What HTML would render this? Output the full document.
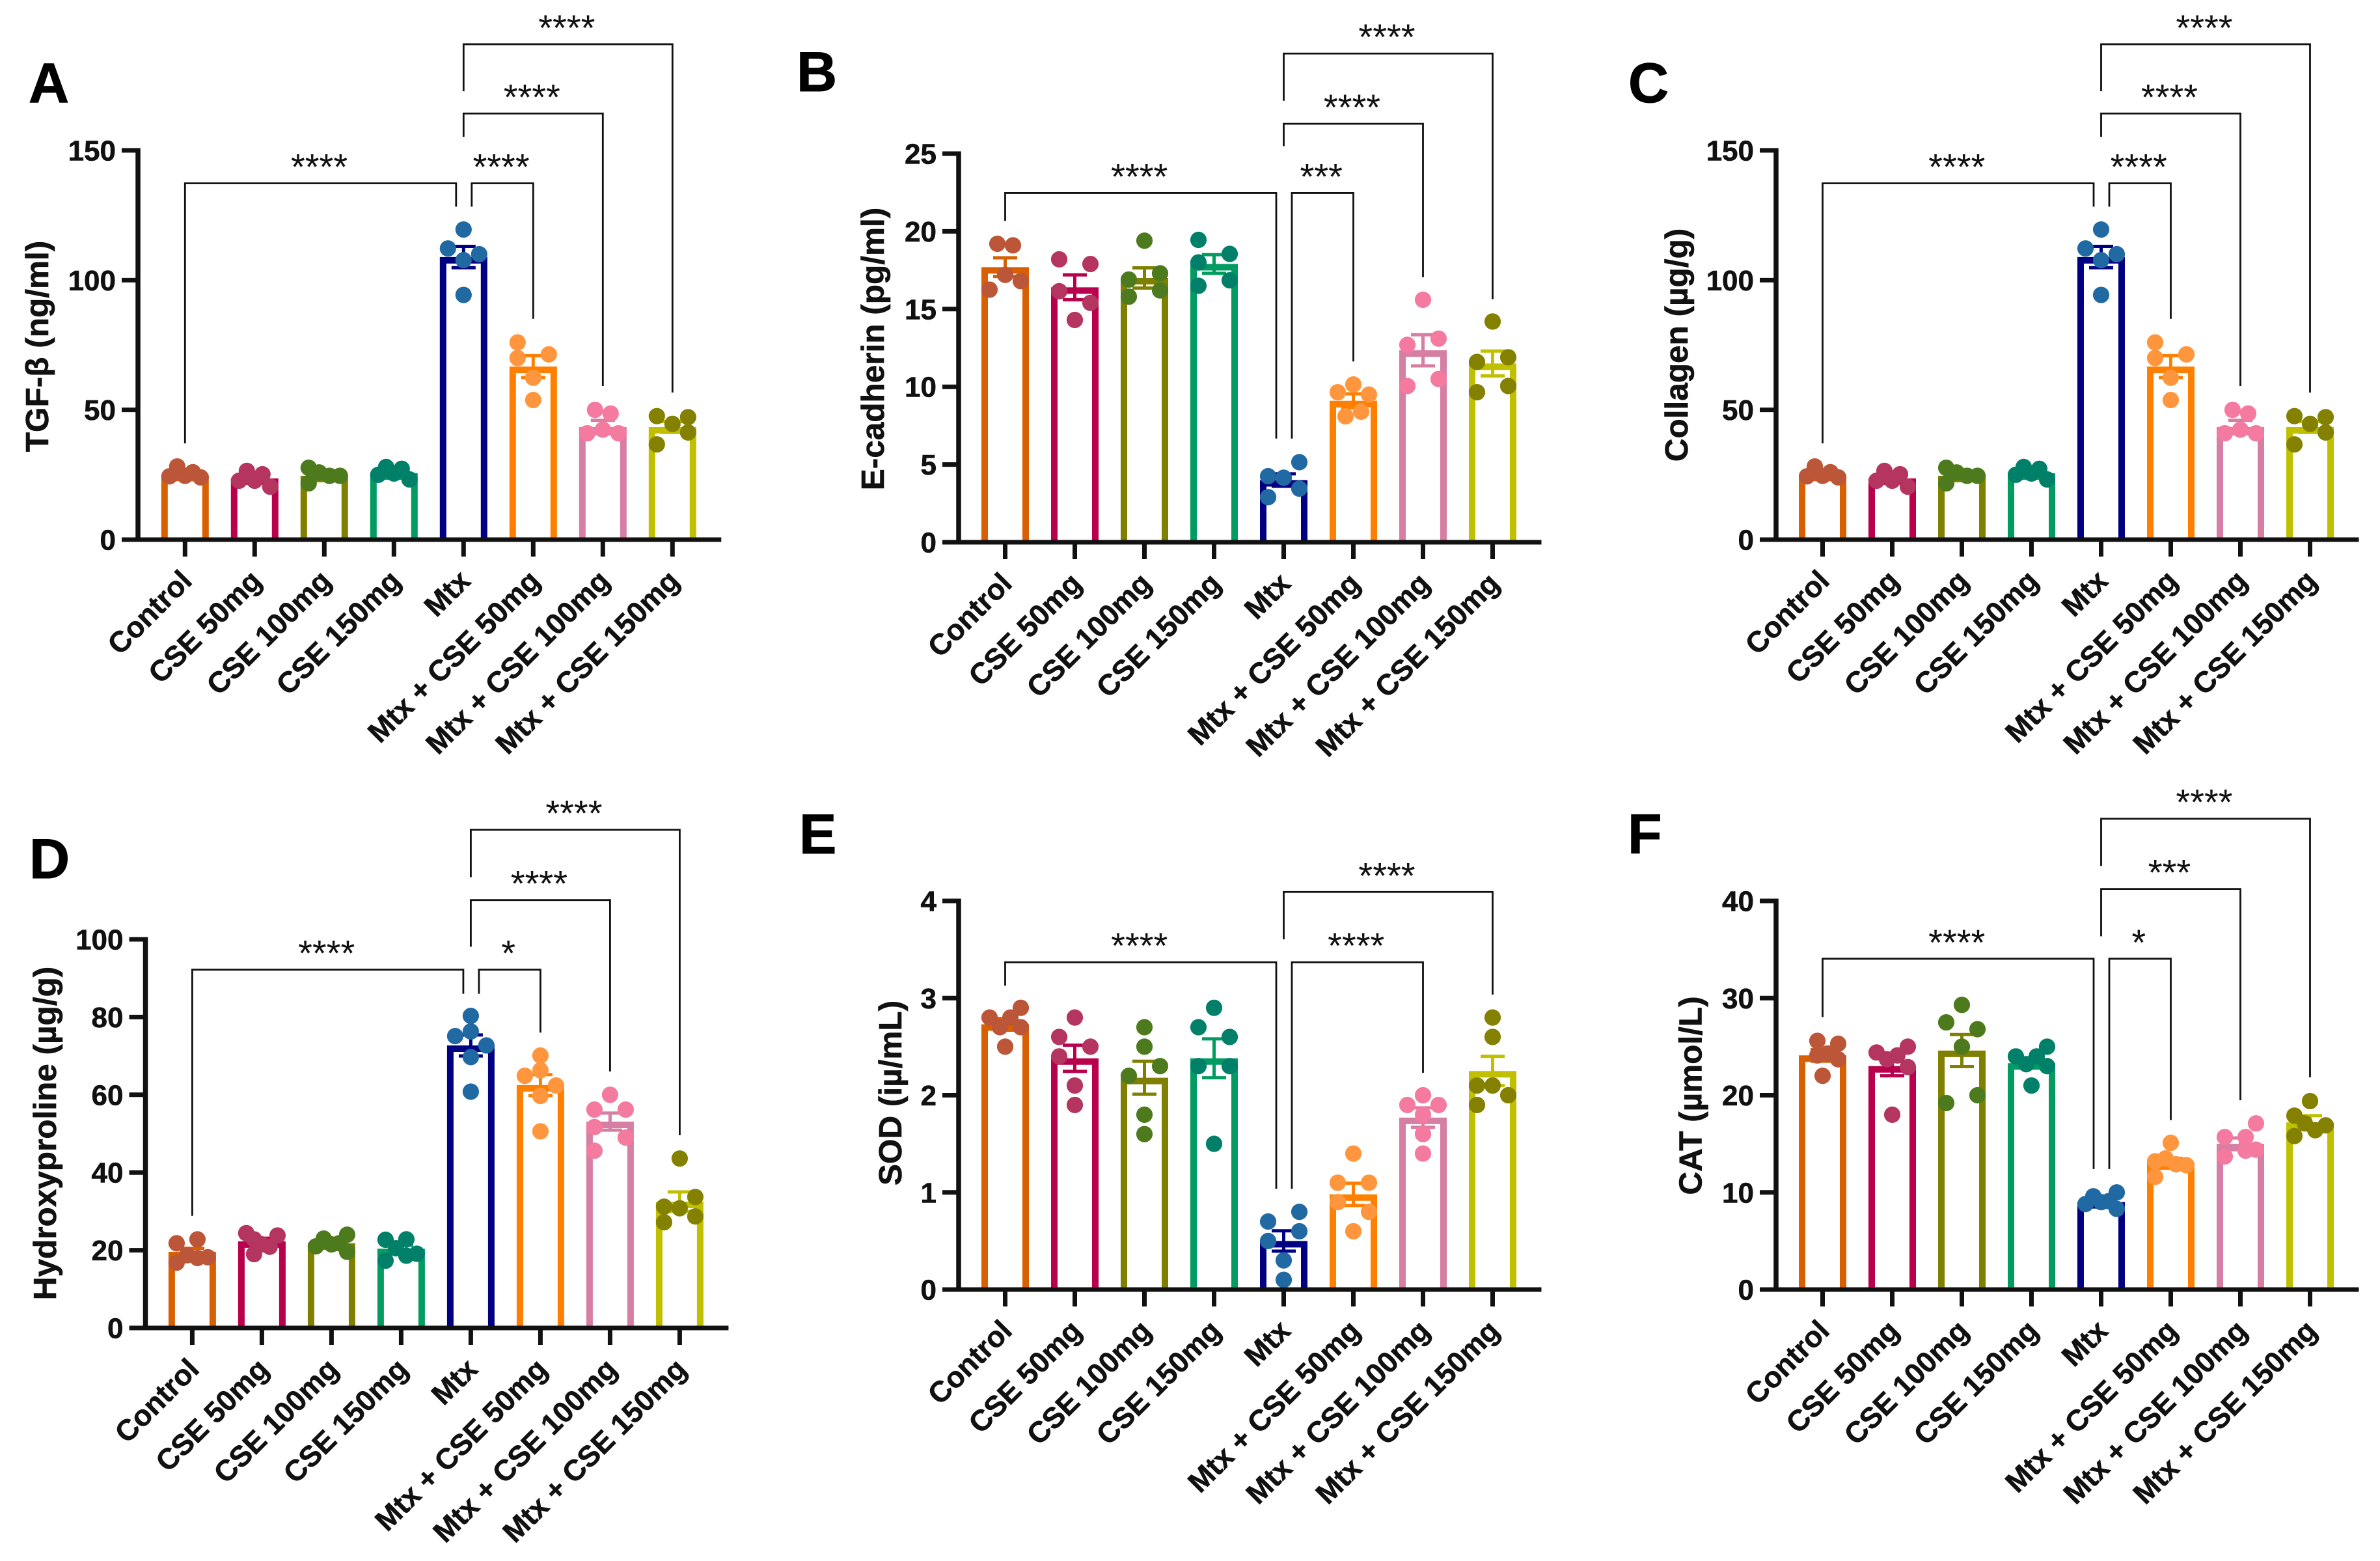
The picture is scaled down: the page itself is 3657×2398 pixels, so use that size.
<!DOCTYPE html>
<html lang="en">
<head>
<meta charset="utf-8">
<title>Six-panel bar charts of fibrosis and oxidative stress markers</title>
<style>
html,body{margin:0;padding:0;background:#fff;}
#figure{display:block;width:3657px;height:2398px;background:#fff;font-family:"Liberation Sans",Arial,sans-serif;}
</style>
</head>
<body>
<svg id="figure" xmlns="http://www.w3.org/2000/svg" width="3657" height="2398" viewBox="0 0 3657 2398"></svg>
<script>
const groupLabels = ["Control","CSE 50mg","CSE 100mg","CSE 150mg","Mtx","Mtx + CSE 50mg","Mtx + CSE 100mg","Mtx + CSE 150mg"];

const barColors = ["#D96002","#B8004D","#808000","#029C62","#000080","#FF8000","#D67EA3","#C0C000"];
const dotColors = ["#BC5638","#B53561","#4E7A1E","#008068","#2169A3","#FF963D","#F47A9F","#848000"];

/* Panel A: TGF-beta */
const ticksA = [0,50,100,150];
const meansA = [25,23.6,24.6,25.6,108.9,66.7,43.4,43.4];
const semsA = [0.8,1,1.1,0.9,4.1,4.2,2.6,2.1];
const dotsA = [
  [[24.4,28.2,24.6,26,24]],
  [[22.7,26.5,22.7,25.2,20.4]],
  [[27.7,25.9,24.6,24.6],[21.7,null]],
  [[25,28,25.5,27.3,23.2]],
  [[119.5],[112.2,107.7,110],[94.3]],
  [[76,null],[70,62.4,71.4],[53.8]],
  [[null,50,null,48.6,null],[41,42.4,41]],
  [[47.6,44.6,47.2],[36.7,null,41.3]]
];
const bracketsA = [
  {from:0,to:4,level:137.3,fromEnd:37.1,toEnd:128.3,stars:"****"},
  {from:4,to:5,level:137.3,fromEnd:128.3,toEnd:85.1,stars:"****"},
  {from:4,to:6,level:164.2,fromEnd:155.2,toEnd:59.2,stars:"****"},
  {from:4,to:7,level:190.9,fromEnd:172.8,toEnd:56.7,stars:"****"}
];

/* Panel B: E-cadherin */
const ticksB = [0,5,10,15,20,25];
const meansB = [17.7,16.4,17,17.9,4,9.1,12.35,11.5];
const semsB = [0.6,0.8,0.65,0.6,0.4,0.45,1,0.8];
const dotsB = [
  [[null,19.2,null,19.1,null],[16.25,17.2,16.8]],
  [[18.2,17.9],[16.15,15.4],[14.3]],
  [[19.4],[16.9,17.3],[15.8,16.2]],
  [[19.45,null],[18,18.55],[16.5,16.85]],
  [[null,null,5.15],[4.25,4.15,null],[2.9,3.45]],
  [[10.15],[9.65,9.5],[null,8.1,null,8.4,null]],
  [[15.6],[12.7,13.1],[10.05,10.5]],
  [[14.2],[11.6,11.9],[9.65,10.05]]
];
const bracketsB = [
  {from:0,to:4,level:22.47,fromEnd:20.67,toEnd:6.67,stars:"****"},
  {from:4,to:5,level:22.47,fromEnd:6.67,toEnd:11.63,stars:"***"},
  {from:4,to:6,level:26.92,fromEnd:25.48,toEnd:17.05,stars:"****"},
  {from:4,to:7,level:31.44,fromEnd:28.4,toEnd:15.64,stars:"****"}
];

/* Panel C: Collagen */
const ticksC = [0,50,100,150];
const meansC = [25,23.6,24.6,25.6,108.9,66.7,43.4,43.4];
const semsC = [0.8,1,1.1,0.9,4.1,4.2,2.6,2.1];
const dotsC = [
  [[24.4,28.2,24.6,26,24]],
  [[22.7,26.5,22.7,25.2,20.4]],
  [[27.7,25.9,24.6,24.6],[21.7,null]],
  [[25,28,25.5,27.3,23.2]],
  [[119.5],[112.2,107.7,110],[94.3]],
  [[76,null],[70,62.4,71.4],[53.8]],
  [[null,50,null,48.6,null],[41,42.4,41]],
  [[47.6,44.6,47.2],[36.7,null,41.3]]
];
const bracketsC = [
  {from:0,to:4,level:137.3,fromEnd:37.1,toEnd:128.3,stars:"****"},
  {from:4,to:5,level:137.3,fromEnd:128.3,toEnd:85.1,stars:"****"},
  {from:4,to:6,level:164.2,fromEnd:155.2,toEnd:59.2,stars:"****"},
  {from:4,to:7,level:190.9,fromEnd:172.8,toEnd:56.7,stars:"****"}
];

/* Panel D: Hydroxyproline */
const ticksD = [0,20,40,60,80,100];
const meansD = [19.6,22.3,21.8,20.4,72.7,62.5,53.1,32.5];
const semsD = [0.9,0.8,0.7,0.9,2.7,2.7,2.2,2.5];
const dotsD = [
  [[21.8,null,22.8,null],[16.8,18.7,18,18.2]],
  [[24.4,22.8,21.5,20.9,23.8],[null,19,null,null,null]],
  [[21,23,21.5,21.8,24],[null,null,null,null,19.6]],
  [[22.7,null,22.8,null],[17.3,20.5,18.6,19.1]],
  [[80.3],[76.3],[75.1,null,72.7],[69.7],[60.8]],
  [[70.1],[66.3],[64.9,null,62.4],[59.7],[50.6]],
  [[60],[56.2,56.2],[51.7,null],[null,49],[45.6,null]],
  [[43.6],[31.2,30.8,33.7],[27.2,null,28.7]]
];
const bracketsD = [
  {from:0,to:4,level:92.2,fromEnd:28.85,toEnd:86,stars:"****"},
  {from:4,to:5,level:92.2,fromEnd:86,toEnd:76,stars:"*"},
  {from:4,to:6,level:110.1,fromEnd:98.1,toEnd:66,stars:"****"},
  {from:4,to:7,level:128.2,fromEnd:116,toEnd:49.6,stars:"****"}
];

/* Panel E: SOD */
const ticksE = [0,1,2,3,4];
const meansE = [2.73,2.38,2.18,2.38,0.5,0.98,1.77,2.25];
const semsE = [0.06,0.135,0.17,0.2,0.105,0.115,0.1,0.15];
const dotsE = [
  [[null,null,null,2.9],[2.8,null,2.8,null],[null,2.7,null,2.7],[2.5]],
  [[2.8],[2.6,2.5],[2.4,null],[2.1],[1.9]],
  [[2.7],[2.5],[null,2.3],[2.2,null],[1.8],[1.6]],
  [[2.9],[2.7,2.6],[2.3,2.3],[1.5]],
  [[null,0.8],[0.7,0.6],[0.5,null],[0.3],[0.1]],
  [[1.4],[1.1,1.1],[0.9,0.8],[0.6]],
  [[2],[1.9,1.9],[1.8],[1.6],[1.4]],
  [[2.8],[2.6],[2.1,2.1,2],[1.9,null]]
];
const bracketsE = [
  {from:0,to:4,level:3.369,fromEnd:3.128,toEnd:1.036,stars:"****"},
  {from:4,to:6,level:3.369,fromEnd:1.036,toEnd:2.231,stars:"****"},
  {from:4,to:7,level:4.092,fromEnd:3.605,toEnd:3.036,stars:"****"}
];

/* Panel F: CAT */
const ticksF = [0,10,20,30,40];
const meansF = [24.1,23,24.6,23.3,9,13,15,17.2];
const semsF = [0.6,1,1.65,0.5,0.3,0.5,0.6,0.7];
const dotsF = [
  [[null,25.6,null,25.3],[null,24.1,24.3,23.7],[22]],
  [[24.4,23.7,24.1,25],[null,null,null,22.9],[18]],
  [[29.3],[27.5,null],[null,26.8],[25],[19.2,20]],
  [[null,null,null,25],[24,null,24,null],[null,23.2,null,23],[21]],
  [[8.8,9.6,9,9.1,10],[null,null,null,null,8.3]],
  [[15.1],[13.2,13.5,12.9,12.8],[11.6,null,null,null]],
  [[null,null,null,17.1],[15.7,null,15.7,null],[13.7,null,14.3,14.4]],
  [[19.4],[17.9,null,null,null],[null,17.1,16.4,16.9],[15.8,null,null,null]]
];
const bracketsF = [
  {from:0,to:4,level:34.05,fromEnd:28.05,toEnd:12.4,stars:"****"},
  {from:4,to:5,level:34.05,fromEnd:12.4,toEnd:17.44,stars:"*"},
  {from:4,to:6,level:41.23,fromEnd:36.36,toEnd:19.49,stars:"***"},
  {from:4,to:7,level:48.46,fromEnd:43.6,toEnd:21.85,stars:"****"}
];

const panels = [
  {id:"a",letter:"A",letterX:44,letterY:157,title:"TGF-β (ng/ml)",titleX:74,titleY:532,axisX:212,firstX:284.3,top:231,zero:829,ticks:ticksA,means:meansA,sems:semsA,dots:dotsA,brackets:bracketsA},
  {id:"b",letter:"B",letterX:1224,letterY:140,title:"E-cadherin (pg/ml)",titleX:1358,titleY:536,axisX:1473,firstX:1544.5,top:236,zero:833,ticks:ticksB,means:meansB,sems:semsB,dots:dotsB,brackets:bracketsB},
  {id:"c",letter:"C",letterX:2502,letterY:157,title:"Collagen (µg/g)",titleX:2593,titleY:530,axisX:2729,firstX:2800.5,top:231,zero:829,ticks:ticksC,means:meansC,sems:semsC,dots:dotsC,brackets:bracketsC},
  {id:"d",letter:"D",letterX:45,letterY:1349,title:"Hydroxyproline (µg/g)",titleX:86,titleY:1741,axisX:223.5,firstX:295.4,top:1443,zero:2040,ticks:ticksD,means:meansD,sems:semsD,dots:dotsD,brackets:bracketsD},
  {id:"e",letter:"E",letterX:1228,letterY:1311,title:"SOD (iµ/mL)",titleX:1385,titleY:1679,axisX:1473,firstX:1544.5,top:1384,zero:1981,ticks:ticksE,means:meansE,sems:semsE,dots:dotsE,brackets:bracketsE},
  {id:"f",letter:"F",letterX:2501,letterY:1311,title:"CAT (µmol/L)",titleX:2614.5,titleY:1683,axisX:2729,firstX:2800.5,top:1384,zero:1981,ticks:ticksF,means:meansF,sems:semsF,dots:dotsF,brackets:bracketsF}
];

const SVG_NS = "http://www.w3.org/2000/svg";
const INK = "#111111";
const GROUP_STEP = 107;
const BAR_WIDTH = 73;
const BAR_STROKE = 10;
const CAP_HALF = 18.5;
const DOT_RADIUS = 12.6;
const SWARM_HALF = 24;

function make(tag, parent, attrs) {
  const el = document.createElementNS(SVG_NS, tag);
  for (const key in attrs) el.setAttribute(key, attrs[key]);
  parent.appendChild(el);
  return el;
}

function slug(text) {
  return text.toLowerCase().replace(/[^a-z0-9]+/g, "-").replace(/^-|-$/g, "");
}

function drawPanel(root, p) {
  const maxTick = p.ticks[p.ticks.length - 1];
  const x = i => p.firstX + i * GROUP_STEP;
  const y = v => p.zero - v * (p.zero - p.top) / maxTick;

  const panel = make("g", root, {});
  
  

  const letter = make("text", panel, {x:p.letterX, y:p.letterY, "font-size":86, "font-weight":700, fill:"#000", stroke:"#000", "stroke-width":1});
  
  
  letter.textContent = p.letter;

  const title = make("text", panel, {transform:"translate(" + p.titleX + " " + p.titleY + ") rotate(-90)", "text-anchor":"middle", "font-size":49.5, "font-weight":700, fill:INK, stroke:INK, "stroke-width":0.6});
  
  
  title.textContent = p.title;

  p.means.forEach((mean, i) => {
    const left = x(i) - BAR_WIDTH / 2 + BAR_STROKE / 2;
    const right = x(i) + BAR_WIDTH / 2 - BAR_STROKE / 2;
    const bar = make("path", panel, {d:"M" + left + " " + p.zero + "V" + (y(mean) + BAR_STROKE / 2) + "H" + right + "V" + p.zero, fill:"none", stroke:barColors[i], "stroke-width":BAR_STROKE, "stroke-linejoin":"miter"});
    
    
  });

  p.means.forEach((mean, i) => {
    const hi = y(mean + p.sems[i]);
    const lo = y(mean - p.sems[i]);
    const cx = x(i);
    const err = make("path", panel, {d:"M" + (cx - CAP_HALF) + " " + hi + "H" + (cx + CAP_HALF) + "M" + cx + " " + hi + "V" + lo + "M" + (cx - CAP_HALF) + " " + lo + "H" + (cx + CAP_HALF), fill:"none", stroke:barColors[i], "stroke-width":5});
    
    
  });

  p.dots.forEach((rows, i) => {
    rows.forEach(row => {
      row.forEach((value, j) => {
        if (value === null) return;
        const offset = row.length === 1 ? 0 : -SWARM_HALF + 2 * SWARM_HALF * j / (row.length - 1);
        const dot = make("circle", panel, {cx:x(i) + offset, cy:y(value), r:DOT_RADIUS, fill:dotColors[i]});
        
        
      });
    });
  });

  const yAxis = make("line", panel, {x1:p.axisX, x2:p.axisX, y1:p.top - 3.5, y2:p.zero + 3.5, stroke:INK, "stroke-width":7.5});
  
  

  const xAxis = make("line", panel, {x1:p.axisX - 25, x2:x(groupLabels.length - 1) + 75, y1:p.zero, y2:p.zero, stroke:INK, "stroke-width":7});
  
  

  p.ticks.forEach(t => {
    const tick = make("line", panel, {x1:p.axisX - 25, x2:p.axisX, y1:y(t), y2:y(t), stroke:INK, "stroke-width":7});
    
    
    const label = make("text", panel, {x:p.axisX - 34, y:y(t) + 15.5, "text-anchor":"end", "font-size":44, "font-weight":700, fill:INK, stroke:INK, "stroke-width":0.6});
    
    
    label.textContent = t;
  });

  groupLabels.forEach((name, i) => {
    const tick = make("line", panel, {x1:x(i), x2:x(i), y1:p.zero, y2:p.zero + 26, stroke:INK, "stroke-width":7});
    
    
    const label = make("text", panel, {transform:"translate(" + (x(i) + 13) + " " + (p.zero + 66) + ") rotate(-45)", "text-anchor":"end", "font-size":45, "font-weight":700, fill:INK, stroke:INK, "stroke-width":0.6});
    
    
    label.textContent = name;
  });

  p.brackets.forEach((b, n) => {
    const joined = p.brackets.some(o => o.to === 4 && o.level === b.level);
    let x1 = x(b.from);
    let x2 = x(b.to);
    if (b.to === 4) x2 -= 11.5;
    if (b.from === 4 && joined) x1 += 12.5;
    const bracket = make("path", panel, {d:"M" + x1 + " " + y(b.fromEnd) + "V" + y(b.level) + "H" + x2 + "V" + y(b.toEnd), fill:"none", stroke:INK, "stroke-width":2.8});
    
    
    const stars = make("text", panel, {x:(x1 + x2) / 2 - 2, y:y(b.level) - 6, "text-anchor":"middle", "font-size":56, fill:INK});
    
    
    stars.textContent = b.stars;
  });
}

const figure = document.getElementById("figure");
panels.forEach(p => drawPanel(figure, p));
</script>
</body>
</html>
